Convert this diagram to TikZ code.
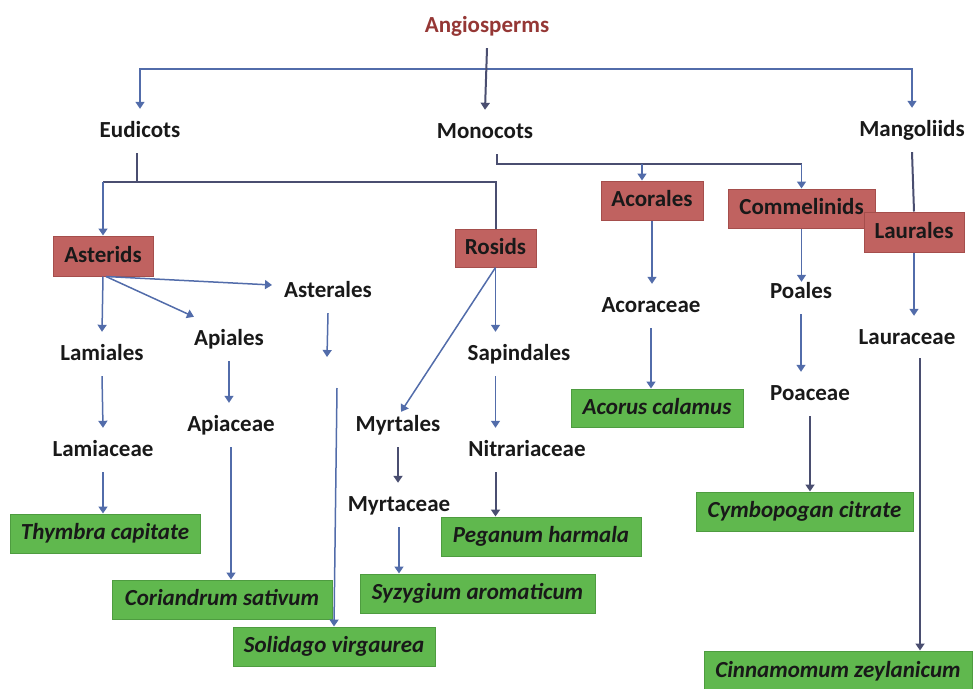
\documentclass[tikz,border=0pt]{standalone}
\usepackage{fontspec}
\setmainfont{Carlito}
\usetikzlibrary{arrows.meta}
\definecolor{redf}{RGB}{192,98,96}
\definecolor{redd}{RGB}{165,78,76}
\definecolor{greenf}{RGB}{96,184,78}
\definecolor{greend}{RGB}{78,156,64}
\definecolor{txt}{RGB}{25,25,25}
\definecolor{angio}{RGB}{149,55,53}
\definecolor{blu}{RGB}{82,108,170}
\definecolor{dkb}{RGB}{74,78,112}
\begin{document}
\begin{tikzpicture}[x=1pt,y=-1pt,
  lbl/.style={font=\fontsize{23}{27}\selectfont\bfseries, text=txt, inner sep=0pt,
    minimum height=44pt, text height=16pt, text depth=4pt},
  box/.style={font=\fontsize{23}{27}\selectfont\bfseries, text=txt, inner sep=0pt,
    text height=16pt, text depth=4pt, line width=1pt},
  redbox/.style={box, fill=redf, draw=redd},
  greenbox/.style={box, fill=greenf, draw=greend, font=\fontsize{23}{27}\selectfont\bfseries\itshape},
  ln/.style={draw=blu, line width=1.5pt},
  dk/.style={draw=dkb, line width=2pt},
  arr/.style={draw=blu, line width=1.5pt, -{Triangle[length=7pt,width=9pt]}},
  darr/.style={draw=dkb, line width=2pt, -{Triangle[length=7pt,width=9pt]}}
]
\useasboundingbox (0,0) rectangle (974,688);

% text nodes
\node[lbl, text=angio] (angio) at (487,26) {Angiosperms};
\node[lbl] (eudicots) at (140,131) {Eudicots};
\node[lbl] (monocots) at (485,132) {Monocots};
\node[lbl] (mangoliids) at (912,130) {Mangoliids};
\node[lbl] (lamiales) at (102,354) {Lamiales};
\node[lbl] (apiales) at (229,339) {Apiales};
\node[lbl] (asterales) at (328,291) {Asterales};
\node[lbl] (lamiaceae) at (103,450) {Lamiaceae};
\node[lbl] (apiaceae) at (231,425) {Apiaceae};
\node[lbl] (myrtales) at (398,425) {Myrtales};
\node[lbl] (myrtaceae) at (399,505) {Myrtaceae};
\node[lbl] (sapindales) at (519,354) {Sapindales};
\node[lbl] (nitrariaceae) at (527,450) {Nitrariaceae};
\node[lbl] (acoraceae) at (651,306) {Acoraceae};
\node[lbl] (poales) at (801,292) {Poales};
\node[lbl] (poaceae) at (810,394) {Poaceae};
\node[lbl] (lauraceae) at (907,338) {Lauraceae};

% red boxes
\node[redbox, minimum width=100pt, minimum height=40pt] (asterids) at (103,256) {Asterids};
\node[redbox, minimum width=81pt, minimum height=38pt] (rosids) at (495.5,248) {Rosids};
\node[redbox, minimum width=102pt, minimum height=39pt] (acorales) at (652,200.5) {Acorales};
\node[redbox, minimum width=147pt, minimum height=39pt] (commelinids) at (801.5,208.5) {Commelinids};
\node[redbox, minimum width=100pt, minimum height=40pt] (laurales) at (914,232) {Laurales};

% green boxes
\node[greenbox, minimum width=172pt, minimum height=38pt] (acorus) at (657,408) {Acorus calamus};
\node[greenbox, minimum width=190pt, minimum height=39pt] (thymbra) at (105,533.5) {Thymbra capitate};
\node[greenbox, minimum width=220pt, minimum height=39pt] (coriandrum) at (222,599.5) {Coriandrum sativum};
\node[greenbox, minimum width=202pt, minimum height=39pt] (solidago) at (334,646.5) {Solidago virgaurea};
\node[greenbox, minimum width=235pt, minimum height=39pt] (syzygium) at (477.5,593.5) {Syzygium aromaticum};
\node[greenbox, minimum width=200pt, minimum height=39pt] (peganum) at (541,536.5) {Peganum harmala};
\node[greenbox, minimum width=217pt, minimum height=39pt] (cymbopogan) at (804.5,511.5) {Cymbopogan citrate};
\node[greenbox, minimum width=268pt, minimum height=40pt] (cinnamomum) at (838,671) {Cinnamomum zeylanicum};

% top level
\coordinate (bus) at (487,69);
\draw[arr] (bus) -| (eudicots.north);
\draw[arr] (bus) -| (mangoliids.north);
\draw[darr] (angio.south) -- (monocots.north);

% eudicots
\coordinate (ebus) at (137,182);
\draw[dk] (eudicots.south -| ebus) -- (ebus);
\draw[dk] (asterids.north |- ebus) -- (rosids.north |- ebus) -- (rosids.north);
\draw[arr] (asterids.north |- ebus) -- (asterids.north);

% monocots
\coordinate (mbus) at (497,164);
\draw[dk] (monocots.south -| mbus) -- (mbus) -- (mbus -| commelinids.north);
\draw[arr] (commelinids.north |- mbus) -- (commelinids.north);
\coordinate (acin) at (642,164);
\draw[arr] (acin) -- (acin |- acorales.north);

% magnoliids
\draw[dk] (mangoliids.south) -- (laurales.north);

% asterids
\draw[arr] (asterids.south) -- (lamiales.north);
\draw[arr] ([xshift=3pt]asterids.south) -- (apiales.north west);
\draw[arr] ([xshift=3pt]asterids.south) -- ([shift={(-12,-6)}]asterales.west);
\coordinate (astgap) at (327,357);
\draw[arr] (asterales.south) -- (astgap);
\coordinate (solstart) at (337,388);
\draw[arr] (solstart) -- (solidago.north);
\draw[arr] (lamiales.south) -- (lamiaceae.north);
\draw[arr] (lamiaceae.south) -- (lamiaceae.south |- thymbra.north);
\draw[arr] (apiales.south) -- (apiales.south |- apiaceae.north);
\draw[arr] (apiaceae.south) -- (apiaceae.south |- coriandrum.north);

% rosids
\draw[arr] (rosids.south) -- ([shift={(3,9)}]myrtales.north);
\draw[arr] (rosids.south) -- (rosids.south |- sapindales.north);
\draw[arr] (rosids.south |- sapindales.south) -- (rosids.south |- nitrariaceae.north);
\draw[darr] (rosids.south |- nitrariaceae.south) -- (rosids.south |- peganum.north);
\draw[darr] (myrtales.south) -- (myrtales.south |- myrtaceae.north);
\draw[arr] (myrtaceae.south) -- (myrtaceae.south |- syzygium.north);

% acorales
\draw[arr] (acorales.south) -- (acorales.south |- acoraceae.north);
\draw[arr] (acoraceae.south) -- (acoraceae.south |- acorus.north);

% commelinids
\draw[arr] (commelinids.south) -- ([yshift=-12pt]commelinids.south |- poales.north);
\draw[arr] (poales.south) -- (poales.south |- poaceae.north);
\draw[darr] (poaceae.south) -- (poaceae.south |- cymbopogan.north);

% laurales
\draw[arr] (laurales.south) -- (laurales.south |- lauraceae.north);
\coordinate (lx) at (920,358);
\draw[darr] (lx) -- (lx |- cinnamomum.north);
\end{tikzpicture}
\end{document}
